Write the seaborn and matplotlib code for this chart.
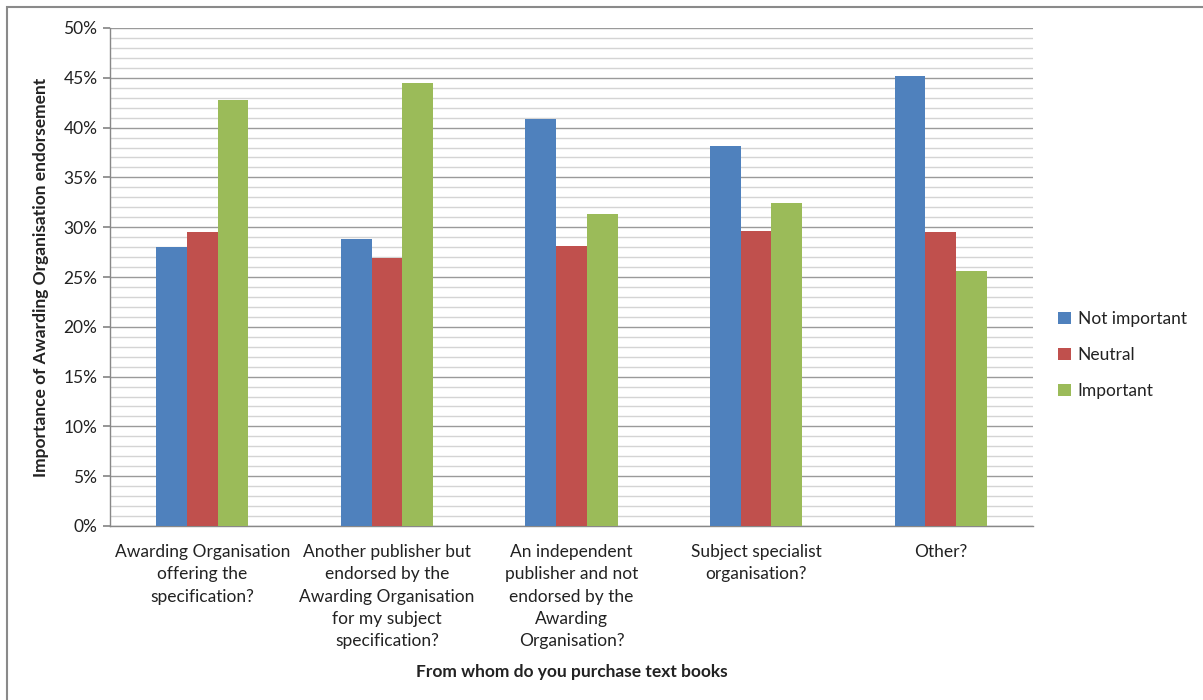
import matplotlib
matplotlib.use("Agg")
import matplotlib.pyplot as plt
import matplotlib.patches as mpatches
from matplotlib.ticker import MultipleLocator, FuncFormatter
import seaborn as sns
import pandas as pd

categories = [
    "Awarding Organisation\noffering the\nspecification?",
    "Another publisher but\nendorsed by the\nAwarding Organisation\nfor my subject\nspecification?",
    "An independent\npublisher and not\nendorsed by the\nAwarding\nOrganisation?",
    "Subject specialist\norganisation?",
    "Other?",
]
series_names = ["Not important", "Neutral", "Important"]
not_important = [28.0, 28.8, 40.9, 38.2, 45.2]
neutral = [29.5, 26.9, 28.1, 29.6, 29.5]
important = [42.8, 44.5, 31.3, 32.4, 25.6]
colors = ["#4F81BD", "#C0504D", "#9BBB59"]

rows = []
for name, vals in zip(series_names, [not_important, neutral, important]):
    for c, v in zip(categories, vals):
        rows.append({"cat": c, "series": name, "value": v})
df = pd.DataFrame(rows)

sns.set_theme(style="white")
plt.rcParams["font.family"] = ["Lato", "DejaVu Sans"]

fig = plt.figure(figsize=(12.03, 7.0), dpi=100)
ax = fig.add_axes([110/1203, 1 - 526/700, (1033 - 110)/1203, (526 - 28)/700])

sns.barplot(data=df, x="cat", y="value", hue="series", order=categories,
            hue_order=series_names, palette=colors, width=0.5, ax=ax,
            saturation=1, errorbar=None, zorder=3, linewidth=0)

ax.set_ylim(0, 50)
ax.set_xlim(-0.5, len(categories) - 0.5)
ax.yaxis.set_major_locator(MultipleLocator(5))
ax.yaxis.set_minor_locator(MultipleLocator(1))
ax.yaxis.set_major_formatter(FuncFormatter(lambda v, p: f"{int(v)}%"))
ax.grid(axis="y", which="major", color="#9a9a9a", linewidth=1.0, zorder=0)
ax.grid(axis="y", which="minor", color="#d4d4d4", linewidth=1.0, zorder=0)
ax.set_axisbelow(True)

for s in ["top", "right"]:
    ax.spines[s].set_visible(False)
for s in ["left", "bottom"]:
    ax.spines[s].set_color("#888888")
    ax.spines[s].set_linewidth(1.0)

fs = 12.5
ax.tick_params(axis="y", which="major", left=True, length=5, color="#888888",
               labelsize=fs, labelcolor="#222222", pad=4)
ax.tick_params(axis="y", which="minor", left=False)
ax.tick_params(axis="x", bottom=False, labelsize=fs, labelcolor="#222222", pad=7)
for lbl in ax.get_xticklabels():
    lbl.set_linespacing(1.48)
    lbl.set_verticalalignment("top")

ax.set_xlabel("From whom do you purchase text books", fontsize=fs,
              fontweight="bold", color="#222222")
ax.set_ylabel("Importance of Awarding Organisation endorsement", fontsize=fs,
              fontweight="bold", color="#222222", labelpad=10)
ax.xaxis.set_label_coords(0.5, -(664 - 526) / 498)

leg = ax.legend(loc="center left", bbox_to_anchor=(1.02, (526 - 355) / 498),
                frameon=False, fontsize=fs, handlelength=0.7, handleheight=0.7,
                handletextpad=0.4, labelspacing=1.15, title=None,
                borderaxespad=0)
for t in leg.get_texts():
    t.set_color("#222222")

fig.patches.append(mpatches.Rectangle((7/1203, -0.1), 1.2, 1 - 7/700 + 0.1,
                                      transform=fig.transFigure, fill=False,
                                      edgecolor="#8a8a8a", linewidth=1.5))

fig.savefig("out.png", dpi=100, facecolor="white")
